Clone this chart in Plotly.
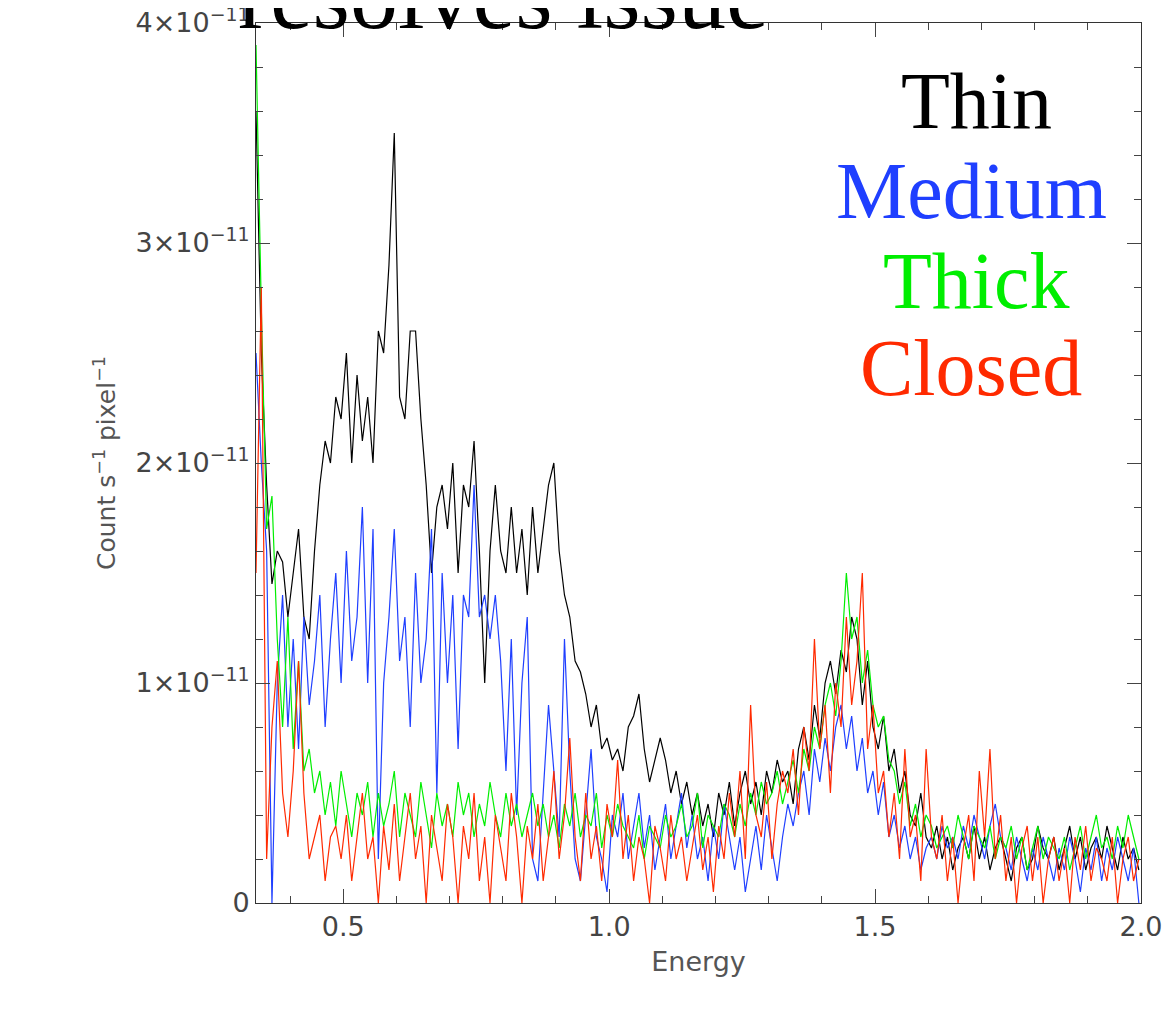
import numpy as np
import plotly.graph_objects as go

# energy grid start / step (keV)
e0 = 0.336
step = 0.01

# count rates in units of 1e-11 count s^-1 pixel^-1
thin = [3.6, 2.5, 1.9, 1.45, 1.6, 1.55, 1.3, 1.5, 1.7, 1.3,
        1.2, 1.6, 1.9, 2.1, 2.0, 2.3, 2.2, 2.5, 2.0, 2.4,
        2.1, 2.3, 2.0, 2.6, 2.5, 2.9, 3.5, 2.3, 2.2, 2.6,
        2.6, 2.2, 1.9, 1.5, 1.8, 1.9, 1.7, 2.0, 1.5, 1.9,
        1.8, 2.1, 1.6, 1.0, 1.6, 1.9, 1.6, 1.5, 1.8, 1.5,
        1.7, 1.4, 1.8, 1.5, 1.7, 1.9, 2.0, 1.6, 1.4, 1.3,
        1.1, 1.05, 0.95, 0.8, 0.9, 0.7, 0.75, 0.65, 0.7, 0.6,
        0.8, 0.85, 0.95, 0.7, 0.55, 0.65, 0.75, 0.65, 0.5, 0.6,
        0.45, 0.55, 0.4, 0.5, 0.35, 0.45, 0.3, 0.5, 0.4, 0.55,
        0.35, 0.5, 0.6, 0.45, 0.55, 0.4, 0.6, 0.5, 0.65, 0.55,
        0.6, 0.45, 0.7, 0.8, 0.65, 0.9, 0.75, 1.0, 1.1, 0.95,
        1.15, 1.05, 1.3, 1.2, 0.9, 1.1, 0.8, 0.7, 0.85, 0.6,
        0.7, 0.5, 0.6, 0.4, 0.35, 0.5, 0.3, 0.25, 0.35, 0.2,
        0.3, 0.15, 0.25, 0.3, 0.2, 0.35, 0.2, 0.3, 0.15, 0.25,
        0.3, 0.2, 0.1, 0.25, 0.3, 0.15, 0.2, 0.35, 0.25, 0.2,
        0.3, 0.15, 0.25, 0.35, 0.2, 0.3, 0.15, 0.25, 0.3, 0.2,
        0.35, 0.25, 0.15, 0.3, 0.2, 0.25, 0.15]

medium = [2.5, 2.0, 1.6, 0.0, 1.0, 1.4, 0.8, 1.2, 0.7, 1.3,
          0.9, 1.1, 1.4, 0.8, 1.2, 1.5, 1.0, 1.6, 1.1, 1.3,
          1.8, 1.0, 1.7, 0.2, 1.0, 1.3, 1.7, 1.1, 1.3, 0.8,
          1.5, 1.0, 1.2, 1.7, 0.5, 1.5, 1.0, 1.4, 0.7, 1.4,
          1.3, 1.9, 1.3, 1.4, 1.2, 1.4, 1.1, 0.6, 1.2, 0.4,
          1.0, 1.3, 0.2, 0.1, 0.5, 0.9, 0.6, 0.3, 1.2, 0.6,
          0.2, 0.1, 0.4, 0.7, 0.3, 0.2, 0.05, 0.4, 0.3, 0.5,
          0.2, 0.35, 0.5, 0.25, 0.4, 0.15, 0.3, 0.45, 0.2, 0.35,
          0.5, 0.25, 0.4, 0.2, 0.3, 0.1, 0.35, 0.2, 0.45, 0.3,
          0.15, 0.3, 0.05, 0.2, 0.35, 0.15, 0.4, 0.25, 0.1, 0.3,
          0.45, 0.35, 0.5, 0.6, 0.4, 0.7, 0.55, 0.75, 0.6, 0.8,
          0.9, 0.7, 0.85, 0.6, 0.75, 0.5, 0.6, 0.4, 0.55, 0.3,
          0.4, 0.25, 0.35, 0.2, 0.3, 0.15, 0.25, 0.3, 0.2, 0.35,
          0.25, 0.3, 0.2, 0.35, 0.25, 0.4, 0.3, 0.2, 0.35, 0.45,
          0.3, 0.25, 0.15, 0.3, 0.2, 0.1, 0.25, 0.15, 0.3, 0.2,
          0.1, 0.25, 0.15, 0.3, 0.2, 0.05, 0.25, 0.15, 0.3, 0.1,
          0.25, 0.15, 0.3, 0.2, 0.1, 0.25, 0.0]

thick = [3.9, 2.7, 1.7, 1.85, 1.2, 0.8, 1.3, 0.7, 1.1, 0.6,
         0.7, 0.5, 0.6, 0.4, 0.55, 0.35, 0.6, 0.45, 0.3, 0.5,
         0.4, 0.55, 0.3, 0.5, 0.35, 0.45, 0.6, 0.3, 0.5, 0.4,
         0.3, 0.55, 0.4, 0.25, 0.5, 0.35, 0.45, 0.3, 0.55, 0.4,
         0.5, 0.3, 0.45, 0.35, 0.55, 0.4, 0.3, 0.5, 0.35, 0.45,
         0.3, 0.4, 0.5, 0.35, 0.45, 0.3, 0.4, 0.25, 0.45, 0.35,
         0.5, 0.3, 0.4, 0.35, 0.5, 0.25, 0.4, 0.3, 0.45, 0.35,
         0.3, 0.25, 0.4, 0.2, 0.35, 0.3, 0.25, 0.4, 0.3, 0.35,
         0.45, 0.3, 0.35, 0.5, 0.25, 0.4, 0.35, 0.3, 0.45, 0.4,
         0.3, 0.45, 0.35, 0.5, 0.4, 0.55, 0.45, 0.5, 0.6, 0.45,
         0.55, 0.65, 0.5, 0.7, 0.6, 0.8, 0.7, 0.9, 1.0, 0.85,
         1.1, 1.5, 1.2, 1.3, 1.0, 1.15, 0.9, 0.8, 0.85, 0.65,
         0.6, 0.45, 0.55, 0.35, 0.45, 0.3, 0.4, 0.35, 0.25, 0.3,
         0.35, 0.25, 0.4, 0.3, 0.2, 0.35, 0.3, 0.25, 0.35, 0.2,
         0.3, 0.25, 0.35, 0.2, 0.3, 0.15, 0.25, 0.35, 0.2, 0.3,
         0.25, 0.2, 0.3, 0.15, 0.25, 0.35, 0.2, 0.3, 0.4, 0.25,
         0.3, 0.2, 0.35, 0.25, 0.4, 0.3, 0.2]

closed = [1.5, 2.8, 0.2, 0.8, 1.1, 0.5, 0.3, 0.6, 1.1, 0.5,
          0.2, 0.3, 0.4, 0.1, 0.3, 0.35, 0.2, 0.4, 0.1, 0.3,
          0.5, 0.2, 0.3, 0.0, 0.35, 0.15, 0.45, 0.1, 0.3, 0.5,
          0.2, 0.35, 0.0, 0.4, 0.25, 0.1, 0.45, 0.3, 0.0, 0.35,
          0.2, 0.5, 0.1, 0.3, 0.0, 0.4, 0.25, 0.1, 0.5, 0.3,
          0.0, 0.35, 0.2, 0.45, 0.1, 0.3, 0.6, 0.2, 0.4, 0.75,
          0.3, 0.1, 0.5, 0.2, 0.35, 0.1, 0.45, 0.3, 0.65, 0.2,
          0.4, 0.1, 0.3, 0.2, 0.0, 0.35, 0.25, 0.1, 0.4, 0.2,
          0.3, 0.1, 0.25, 0.4, 0.15, 0.3, 0.05, 0.35, 0.2, 0.5,
          0.3, 0.6, 0.2, 0.9, 0.4, 0.3, 0.55, 0.2, 0.45, 0.6,
          0.5, 0.7, 0.4, 0.8, 0.6, 1.2, 0.7, 0.9, 0.5, 1.0,
          0.8, 1.3, 0.9, 1.1, 1.5, 0.7, 0.9, 0.5, 0.6, 0.3,
          0.5, 0.2, 0.7, 0.3, 0.4, 0.1, 0.7, 0.3, 0.2, 0.4,
          0.1, 0.3, 0.0, 0.25, 0.4, 0.1, 0.6, 0.3, 0.7, 0.2,
          0.4, 0.1, 0.3, 0.0, 0.25, 0.35, 0.1, 0.3, 0.0, 0.2,
          0.3, 0.1, 0.25, 0.0, 0.3, 0.15, 0.35, 0.1, 0.25, 0.2,
          0.1, 0.3, 0.0, 0.2, 0.3, 0.1, 0.2]

series = [("Thin", thin, "black"), ("Medium", medium, "#1f3fff"),
          ("Thick", thick, "#00ee00"), ("Closed", closed, "#ff2a00")]

fig = go.Figure()
for name, vals, col in series:
    x = e0 + step * np.arange(len(vals))
    y = np.array(vals) * 1e-11
    fig.add_trace(go.Scatter(x=x, y=y, mode="lines", name=name,
                             line=dict(color=col, width=1.2)))

ytick_vals = [0, 1e-11, 2e-11, 3e-11, 4e-11]
ytick_text = ["0"] + ["%d×10<sup>−11</sup>" % i for i in range(1, 5)]

axis_font = dict(family="DejaVu Sans", size=27, color="#444")
fig.update_xaxes(range=[0.336, 2.0], tickvals=[0.5, 1.0, 1.5, 2.0],
                 ticktext=["0.5", "1.0", "1.5", "2.0"],
                 ticks="inside", ticklen=14, mirror="ticks",
                 showline=True, linecolor="#333", linewidth=1,
                 showgrid=False, zeroline=False, tickfont=axis_font,
                 automargin=False, ticklabeloverflow="allow",
                 minor=dict(dtick=0.1, ticks="inside", ticklen=7),
                 title=dict(text="Energy", font=dict(family="DejaVu Sans", size=27, color="#555"),
                            standoff=10))
fig.update_yaxes(range=[0, 4e-11], tickvals=ytick_vals, ticktext=ytick_text,
                 ticks="inside", ticklen=14, mirror="ticks",
                 showline=True, linecolor="#333", linewidth=1,
                 showgrid=False, zeroline=False, tickfont=axis_font,
                 automargin=False, ticklabeloverflow="allow",
                 minor=dict(dtick=0.2e-11, ticks="inside", ticklen=7),
                 title=dict(text="Count s<sup>−1</sup> pixel<sup>−1</sup>",
                            font=dict(family="DejaVu Sans", size=25, color="#555"),
                            standoff=12))

serif = "Liberation Serif"
labels = [("Thin", "black", 0.814, 0.911), ("Medium", "#1f3fff", 0.808, 0.809),
          ("Thick", "#00ee00", 0.814, 0.707), ("Closed", "#ff2a00", 0.808, 0.608)]
for txt, col, xx, yy in labels:
    fig.add_annotation(text=txt, xref="paper", yref="paper", x=xx, y=yy,
                       xanchor="center", yanchor="middle",
                       showarrow=False, font=dict(family=serif, size=80, color=col))

fig.add_annotation(text="resolves issue", xref="paper", yref="paper", x=0.28, y=1.0,
                   xanchor="center", yanchor="bottom", yshift=-28, showarrow=False,
                   font=dict(family=serif, size=96, color="black"))

fig.update_layout(width=1173, height=1021, showlegend=False,
                  plot_bgcolor="white", paper_bgcolor="white",
                  margin=dict(l=248, r=40, t=15, b=126, autoexpand=False))
fig.write_html("out.html")
